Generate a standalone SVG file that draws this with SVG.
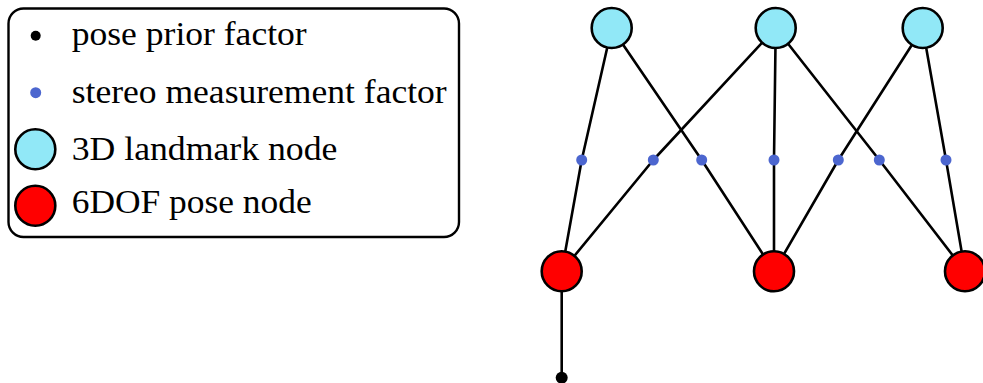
<svg xmlns="http://www.w3.org/2000/svg" width="983" height="383" viewBox="0 0 983 383">
  <style>
    .edge { fill: none; stroke: #000; stroke-width: 2.6; stroke-linejoin: round; }
    .landmark { fill: #91e8f7; stroke: #000; stroke-width: 2.6; }
    .pose { fill: #ff0000; stroke: #000; stroke-width: 2.6; }
    .stereo { fill: #4c66cf; }
    .prior { fill: #000; }
    .label { font-family: "Liberation Serif", "DejaVu Serif", serif; font-size: 33px; fill: #000; }
    .frame { fill: #fff; stroke: #000; stroke-width: 2.4; }
  </style>

  <!-- legend -->
  <g id="legend">
    <rect class="frame" x="8.5" y="8.5" width="450.5" height="228.5" rx="15" ry="15"/>
    <circle class="prior" cx="35.7" cy="35.7" r="5"/>
    <text class="label" x="71.7" y="45" textLength="235" lengthAdjust="spacingAndGlyphs">pose prior factor</text>
    <circle class="stereo" cx="35.7" cy="92.7" r="5.5"/>
    <text class="label" x="71.7" y="103.3" textLength="375" lengthAdjust="spacingAndGlyphs">stereo measurement factor</text>
    <circle class="landmark" cx="35.3" cy="149.3" r="20"/>
    <text class="label" x="71.7" y="160" textLength="265.7" lengthAdjust="spacingAndGlyphs">3D landmark node</text>
    <circle class="pose" cx="35.3" cy="205.7" r="20"/>
    <text class="label" x="71.7" y="213.3" textLength="240" lengthAdjust="spacingAndGlyphs">6DOF pose node</text>
  </g>

  <!-- connectors: landmark - factor - pose, plus the prior on the first pose -->
  <g id="edges">
    <polyline class="edge" points="611.7,28 581.7,160 561.7,271.3"/>
    <polyline class="edge" points="775.7,28 653.3,160 561.7,271.3"/>
    <polyline class="edge" points="611.7,28 701.7,160 774,271.3"/>
    <polyline class="edge" points="775.7,28 774,160 774,271.3"/>
    <polyline class="edge" points="922.7,28 838.3,160 774,271.3"/>
    <polyline class="edge" points="775.7,28 879.3,160 965,271.3"/>
    <polyline class="edge" points="922.7,28 946,160 965,271.3"/>
    <line class="edge" x1="561.7" y1="271.3" x2="561.7" y2="377.7"/>
  </g>

  <!-- stereo measurement factors -->
  <g id="f1"><circle class="stereo" cx="581.7" cy="160" r="5.5"/></g>
  <g id="f2"><circle class="stereo" cx="653.3" cy="160" r="5.5"/></g>
  <g id="f3"><circle class="stereo" cx="701.7" cy="160" r="5.5"/></g>
  <g id="f4"><circle class="stereo" cx="774" cy="160" r="5.5"/></g>
  <g id="f5"><circle class="stereo" cx="838.3" cy="160" r="5.5"/></g>
  <g id="f6"><circle class="stereo" cx="879.3" cy="160" r="5.5"/></g>
  <g id="f7"><circle class="stereo" cx="946" cy="160" r="5.5"/></g>

  <!-- pose prior factor -->
  <g id="prior"><circle class="prior" cx="561.7" cy="377.7" r="6"/></g>

  <!-- 3D landmarks -->
  <g id="l1"><circle class="landmark" cx="611.7" cy="28" r="20"/></g>
  <g id="l2"><circle class="landmark" cx="775.7" cy="28" r="20"/></g>
  <g id="l3"><circle class="landmark" cx="922.7" cy="28" r="20"/></g>

  <!-- 6DOF poses -->
  <g id="p1"><circle class="pose" cx="561.7" cy="271.3" r="20"/></g>
  <g id="p2"><circle class="pose" cx="774" cy="271.3" r="20"/></g>
  <g id="p3"><circle class="pose" cx="965" cy="271.3" r="20"/></g>
</svg>
